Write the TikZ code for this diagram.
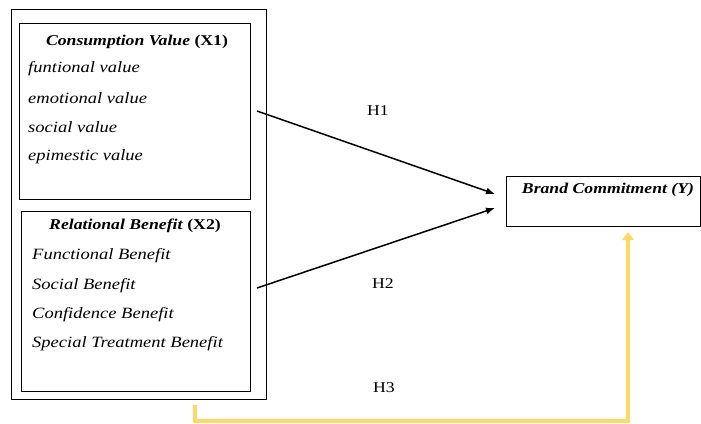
\documentclass[tikz,border=0pt]{standalone}
\usepackage{fontspec}
\setmainfont[FakeStretch=1.18]{Liberation Serif}
\usetikzlibrary{arrows.meta}
\definecolor{hyellow}{RGB}{255,217,102}
\tikzset{
  boxline/.style={draw=black, line width=0.9pt},
  item/.style={anchor=west, inner sep=0pt, font=\fontsize{15.7}{18}\selectfont\itshape},
  titletext/.style={inner sep=0pt, font=\fontsize{15}{18}\selectfont\bfseries},
  hlabel/.style={inner sep=0pt, font=\fontsize{15}{18}\selectfont},
  hyp/.style={line width=1.5pt, -{Latex[length=9pt,width=7pt]}},
  yarrow/.style={draw=hyellow, line width=3.6pt, -{Triangle[length=8pt,width=12pt]}},
}
\begin{document}
\begin{tikzpicture}[x=1pt,y=-1pt]
\useasboundingbox (0,0) rectangle (701,423);
% boxes
\draw[boxline] (11,9) rectangle (266,399);
\draw[boxline] (19.5,23) rectangle (250,199);
\draw[boxline] (21,211) rectangle (250,391);
\draw[boxline] (506,176) rectangle (700.5,226);
% box 1 text
\node[titletext] (t1) at (137,42) {\textit{Consumption Value} (X1)};
\node[item] (a1) at (28,69) {funtional value};
\node[item] (a2) at (28,98) {emotional value};
\node[item] (a3) at (28,127) {social value};
\node[item] (a4) at (28,156.5) {epimestic value};
% box 2 text
\node[titletext] (t2) at (135,225.5) {\textit{Relational Benefit} (X2)};
\node[item] (b1) at (32,255.5) {Functional Benefit};
\node[item] (b2) at (32,285.5) {Social Benefit};
\node[item] (b3) at (32,315) {Confidence Benefit};
\node[item] (b4) at (32,344) {Special Treatment Benefit};
% target
\node[titletext, font=\fontsize{15}{18}\selectfont\bfseries\itshape] (y) at (608,190) {Brand Commitment (Y)};
% connector ends
\coordinate (s1) at (257,111);
\coordinate (e1) at (495,194);
\coordinate (s2) at (257,288);
\coordinate (e2) at (495,208);
\coordinate (ys) at (195,405);
\coordinate (ye) at (628,232);
\draw[hyp] (s1) -- (e1);
\draw[hyp] (s2) -- (e2);
\draw[yarrow] (ys) -- (195,421) -- (628,421) -- (ye);
% labels
\node[hlabel] (h1) at (378,110.5) {H1};
\node[hlabel] (h2) at (383,283.5) {H2};
\node[hlabel] (h3) at (384,387.5) {H3};
\end{tikzpicture}
\end{document}
